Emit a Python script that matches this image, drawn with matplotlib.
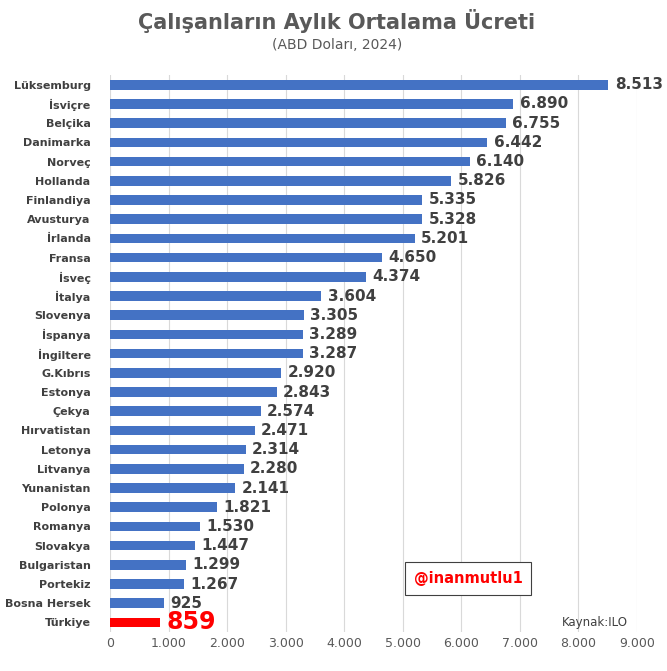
import matplotlib.pyplot as plt
import matplotlib.ticker as mticker

countries = ["Lüksemburg", "İsviçre", "Belçika", "Danimarka", "Norveç", "Hollanda",
             "Finlandiya", "Avusturya", "İrlanda", "Fransa", "İsveç", "İtalya",
             "Slovenya", "İspanya", "İngiltere", "G.Kıbrıs", "Estonya", "Çekya",
             "Hırvatistan", "Letonya", "Litvanya", "Yunanistan", "Polonya", "Romanya",
             "Slovakya", "Bulgaristan", "Portekiz", "Bosna Hersek", "Türkiye"]
wages = [8513, 6890, 6755, 6442, 6140, 5826, 5335, 5328, 5201, 4650, 4374, 3604,
         3305, 3289, 3287, 2920, 2843, 2574, 2471, 2314, 2280, 2141, 1821, 1530,
         1447, 1299, 1267, 925, 859]

def fmt(v):
    return f"{v:,}".replace(",", ".")

fig = plt.figure(figsize=(6.67, 6.71), dpi=100)
ax = fig.add_axes([0.165, 0.058, 0.79, 0.83])
ypos = list(range(len(countries)))
colors = ["#4472C4"] * (len(countries) - 1) + ["#FF0000"]
ax.barh(ypos, wages, height=0.5, color=colors, zorder=3)
ax.set_ylim(len(countries) - 0.5, -0.5)
ax.set_xlim(0, 9000)
ax.xaxis.set_major_locator(mticker.MultipleLocator(1000))
ax.xaxis.set_major_formatter(mticker.FuncFormatter(lambda v, p: fmt(int(v))))
ax.set_yticks(ypos)
ax.set_yticklabels(countries, fontsize=8, fontweight="bold", color="#404040")
ax.tick_params(axis="x", labelsize=9, colors="#595959", length=0)
ax.tick_params(axis="y", length=0, pad=14)
ax.grid(axis="x", color="#D9D9D9", lw=0.8, zorder=0)
for s in ax.spines.values():
    s.set_visible(False)

for i, v in enumerate(wages):
    if i == len(wages) - 1:
        ax.text(v + 110, i, fmt(v), va="center", ha="left", fontsize=17,
                fontweight="bold", color="#FF0000")
    else:
        ax.text(v + 110, i, fmt(v), va="center", ha="left", fontsize=11,
                fontweight="bold", color="#404040")

fig.text(0.505, 0.968, "Çalışanların Aylık Ortalama Ücreti", ha="center", va="center",
         fontsize=15, fontweight="bold", color="#595959")
fig.text(0.505, 0.933, "(ABD Doları, 2024)", ha="center", va="center",
         fontsize=10, color="#595959")
fig.text(0.702, 0.138, "@inanmutlu1", ha="center", va="center", fontsize=10.5,
         fontweight="bold", color="#FF0000",
         bbox=dict(boxstyle="square,pad=0.6", fc="white", ec="#404040", lw=0.8))
fig.text(0.842, 0.073, "Kaynak:ILO", ha="left", va="center", fontsize=8.5, color="#404040")

fig.savefig("out.png", dpi=100)
